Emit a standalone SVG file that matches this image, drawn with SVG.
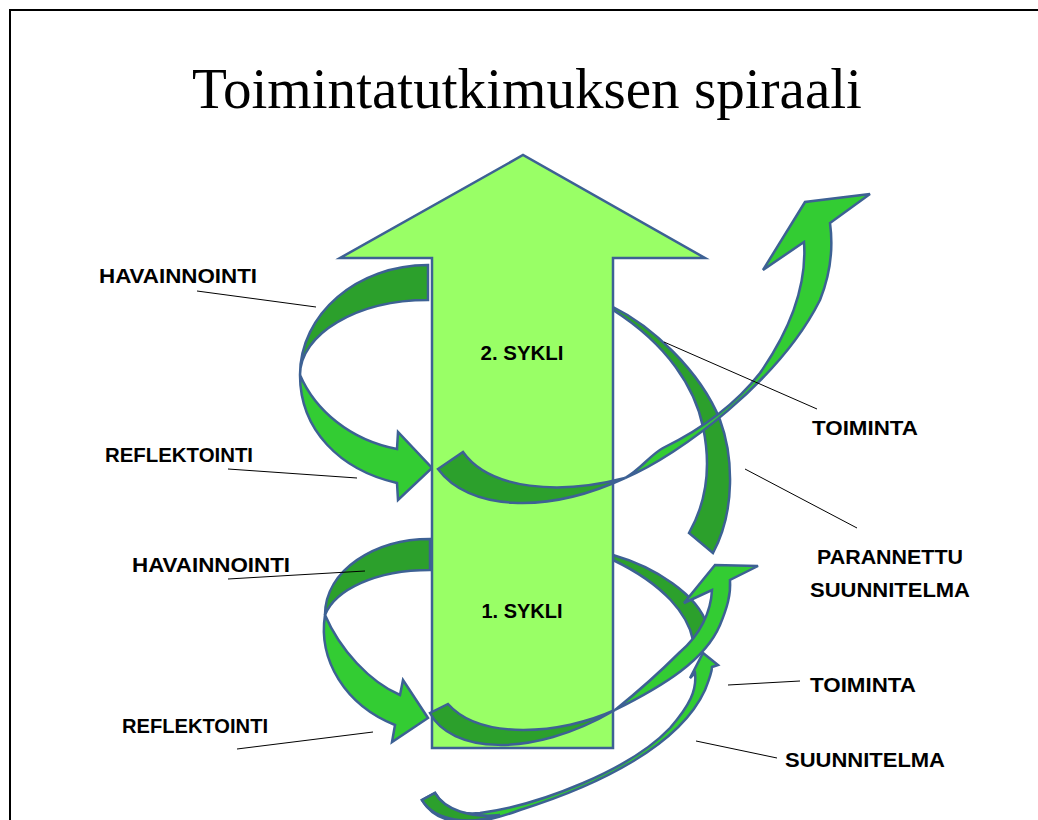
<svg xmlns="http://www.w3.org/2000/svg" width="1038" height="820" viewBox="0 0 1038 820">
<style>
.lbl{font-family:"Liberation Sans",Arial,sans-serif;font-weight:bold;font-size:20px;fill:#000}
.title{font-family:"Liberation Serif","Times New Roman",serif;font-size:57px;fill:#000}
.dk{fill:#2CA02C;stroke:#3D6194;stroke-width:2.5;stroke-linejoin:miter}
.br{fill:#33CC33;stroke:#3D6194;stroke-width:2.5;stroke-linejoin:miter}
.big{fill:#99FF66;stroke:#3D6194;stroke-width:2.5}
.lead{stroke:#000;stroke-width:1;fill:none}
</style>
<rect width="1038" height="820" fill="#fff"/>
<path d="M10,822 L10,10 L1040,10" fill="none" stroke="#000" stroke-width="2"/>
<text class="title" x="527" y="108" text-anchor="middle" textLength="670" lengthAdjust="spacingAndGlyphs">Toimintatutkimuksen spiraali</text>

<g id="back-bands">
  <path class="dk" d="M428,265 C357,265 300,314 300,375 C300,334 357,300 428,300 Z"/>
  <path class="br" d="M300,375 C300,430 340,470 397,483 L398,500 L432,468 L398,432 L397,449 C350,440 315,410 300,375 Z"/>
  <path class="dk" d="M613,307 C650,325 700,370 720,420 C733,455 736,510 713,553 L689,533 C705,505 712,470 703,427 C695,388 668,345 613,310 Z"/>
  <path class="dk" d="M430,539 C375,539 325,570 325,615 C335,590 375,570 430,570 Z"/>
  <path class="br" d="M325,615 C318,660 345,705 395,725 L392,742 L428,718 L403,680 L400,695 C370,682 340,650 325,615 Z"/>
  <path class="dk" d="M613,555 C655,567 698,595 707,625 C708,633 706,638 704,640 L693,640 C688,615 665,585 613,560 Z"/>
</g>

<g id="main-arrow">
  <path class="big" d="M432,748 L432,258 L340,258 L523,155 L705,258 L613,258 L613,748 Z"/>
</g>

<g id="sweeps">
  <path class="dk" d="M438,469 C468,510 545,515 625,478 C560,495 490,490 463,452 Z"/>
  <path class="br" d="M625,478 C680,455 780,380 820,300 C832,270 833,245 830,223 L870,194 L805,202 L763,270 L804,242 C807,285 790,330 760,373 C735,405 700,430 663,448 C650,455 640,470 625,478 Z"/>
  <path class="dk" d="M430,713 C450,752 530,760 615,710 C560,735 480,740 448,704 Z"/>
  <path class="br" d="M615,710 C665,685 705,660 720,625 C727,608 731,595 730,580 L758,566 L715,565 L684,603 L712,590 C711,612 700,635 680,652 C660,672 640,690 615,710 Z"/>
  <path class="br" d="M422,800 C440,830 480,825 520,810 C600,785 680,745 705,690 C709,680 712,672 712,667 L718,665 L703,653 L690,678 L695,673 C697,690 690,705 670,728 C630,770 540,805 480,813 C460,815 445,810 435,793 Z"/>
  <path class="dk" d="M422,800 C435,822 470,825 500,815 C470,818 445,810 435,793 Z"/>
</g>

<g id="labels">
  <text class="lbl" x="522" y="360" text-anchor="middle" textLength="83" lengthAdjust="spacingAndGlyphs">2. SYKLI</text>
  <text class="lbl" x="522" y="618" text-anchor="middle" textLength="81" lengthAdjust="spacingAndGlyphs">1. SYKLI</text>
  <text class="lbl" x="99" y="283" textLength="158" lengthAdjust="spacingAndGlyphs">HAVAINNOINTI</text>
  <text class="lbl" x="105" y="462" textLength="148" lengthAdjust="spacingAndGlyphs">REFLEKTOINTI</text>
  <text class="lbl" x="132" y="572" textLength="158" lengthAdjust="spacingAndGlyphs">HAVAINNOINTI</text>
  <text class="lbl" x="122" y="733" textLength="146" lengthAdjust="spacingAndGlyphs">REFLEKTOINTI</text>
  <text class="lbl" x="812" y="435" textLength="106" lengthAdjust="spacingAndGlyphs">TOIMINTA</text>
  <text class="lbl" x="817" y="564" textLength="146" lengthAdjust="spacingAndGlyphs">PARANNETTU</text>
  <text class="lbl" x="810" y="597" textLength="160" lengthAdjust="spacingAndGlyphs">SUUNNITELMA</text>
  <text class="lbl" x="810" y="692" textLength="106" lengthAdjust="spacingAndGlyphs">TOIMINTA</text>
  <text class="lbl" x="785" y="767" textLength="160" lengthAdjust="spacingAndGlyphs">SUUNNITELMA</text>
</g>

<g id="connectors">
  <line class="lead" x1="197" y1="291" x2="316" y2="307"/>
  <line class="lead" x1="228" y1="469" x2="357" y2="478"/>
  <line class="lead" x1="228" y1="579" x2="365" y2="571"/>
  <line class="lead" x1="237" y1="749" x2="373" y2="732"/>
  <line class="lead" x1="664" y1="342" x2="817" y2="409"/>
  <line class="lead" x1="745" y1="469" x2="857" y2="528"/>
  <line class="lead" x1="728" y1="685" x2="800" y2="681"/>
  <line class="lead" x1="696" y1="741" x2="777" y2="758"/>
</g>
</svg>
